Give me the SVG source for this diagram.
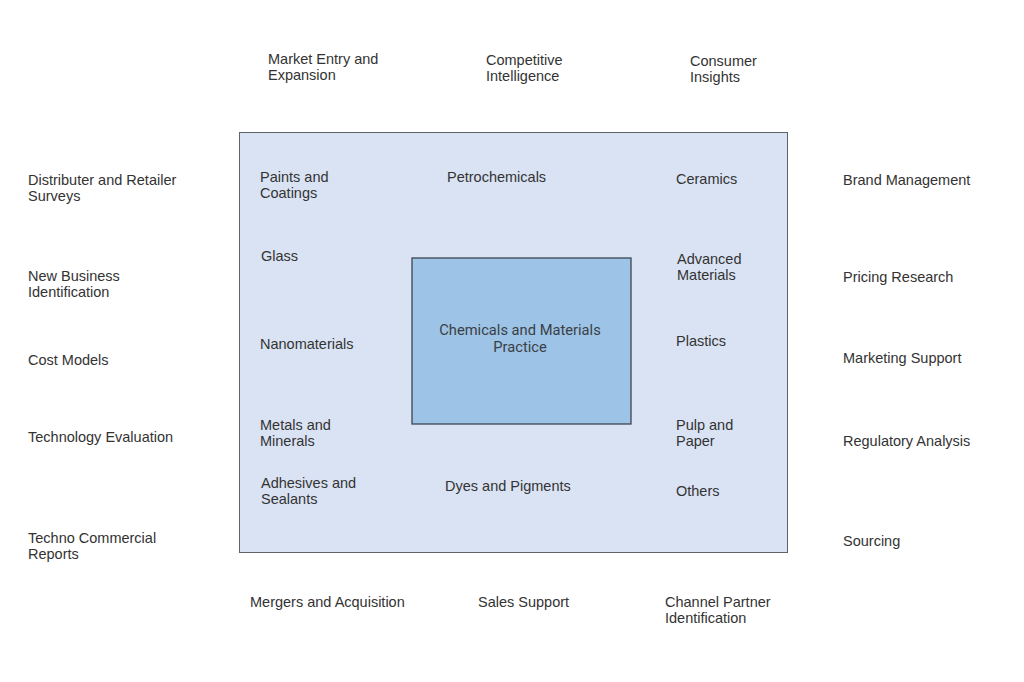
<svg xmlns="http://www.w3.org/2000/svg" width="1024" height="682" viewBox="0 0 1024 682">
<style>
text{font-family:"Liberation Sans",Arial,sans-serif;font-size:14.5px;fill:#333333}
.c{font-family:Roboto,"Liberation Sans",sans-serif;font-size:14.7px;text-anchor:middle;fill:#3a3f45}
</style>
<rect width="1024" height="682" fill="#ffffff"/>
<g id="outer"><rect x="239.5" y="132.5" width="548" height="420" fill="#dae3f3" stroke="#5f6368" stroke-width="1"/></g>
<g id="center"><rect x="412" y="258" width="219" height="166" fill="#9dc3e6" stroke="#3c4650" stroke-width="1.3"/>
<text class="c" x="520" y="335">Chemicals and Materials</text><text class="c" x="520" y="352">Practice</text></g>
<g id="connectors"></g>
<g id="top">
<text x="268" y="64">Market Entry and</text><text x="268" y="80">Expansion</text>
<text x="486" y="65">Competitive</text><text x="486" y="81">Intelligence</text>
<text x="690" y="66">Consumer</text><text x="690" y="82">Insights</text>
</g>
<g id="left">
<text x="28" y="185">Distributer and Retailer</text><text x="28" y="201">Surveys</text>
<text x="28" y="281">New Business</text><text x="28" y="297">Identification</text>
<text x="28" y="365">Cost Models</text>
<text x="28" y="442">Technology Evaluation</text>
<text x="28" y="543">Techno Commercial</text><text x="28" y="559">Reports</text>
</g>
<g id="right">
<text x="843" y="185">Brand Management</text>
<text x="843" y="282">Pricing Research</text>
<text x="843" y="363">Marketing Support</text>
<text x="843" y="446">Regulatory Analysis</text>
<text x="843" y="546">Sourcing</text>
</g>
<g id="bottom">
<text x="250" y="607">Mergers and Acquisition</text>
<text x="478" y="607">Sales Support</text>
<text x="665" y="607">Channel Partner</text><text x="665" y="623">Identification</text>
</g>
<g id="inner">
<text x="260" y="182">Paints and</text><text x="260" y="198">Coatings</text>
<text x="447" y="182">Petrochemicals</text>
<text x="676" y="184">Ceramics</text>
<text x="261" y="261">Glass</text>
<text x="677" y="264">Advanced</text><text x="677" y="280">Materials</text>
<text x="260" y="349">Nanomaterials</text>
<text x="676" y="346">Plastics</text>
<text x="260" y="430">Metals and</text><text x="260" y="446">Minerals</text>
<text x="676" y="430">Pulp and</text><text x="676" y="446">Paper</text>
<text x="261" y="488">Adhesives and</text><text x="261" y="504">Sealants</text>
<text x="445" y="491">Dyes and Pigments</text>
<text x="676" y="496">Others</text>
</g>
</svg>
